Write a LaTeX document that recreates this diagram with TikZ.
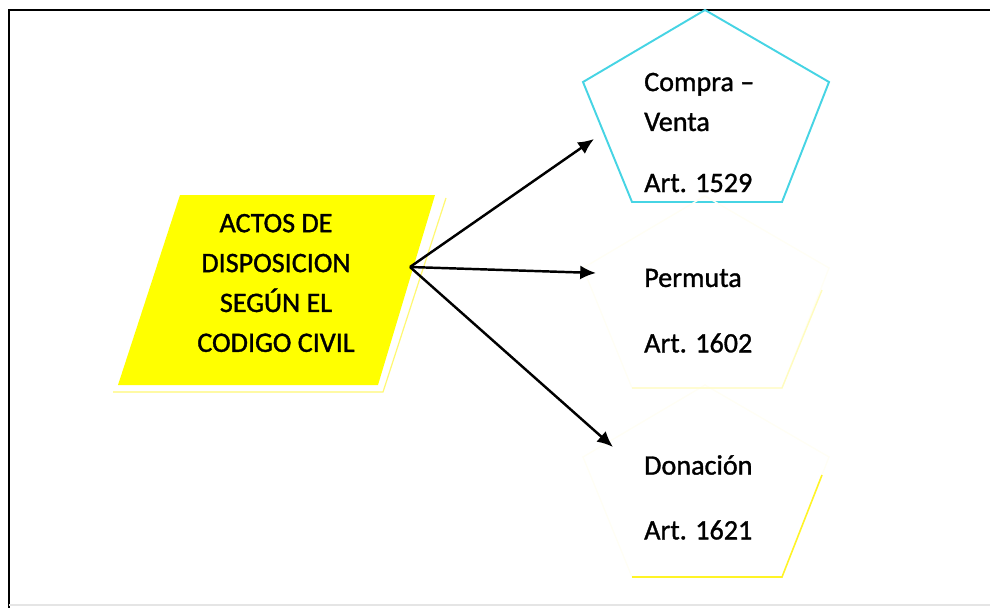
\documentclass[tikz,border=0pt]{standalone}
\usepackage{fontspec}
\setmainfont{Carlito}[FakeBold=1.2]
\newfontfamily\txtfont{Carlito}[FakeBold=1.2]
\usetikzlibrary{arrows.meta}

\definecolor{cyanline}{RGB}{70,212,228}
\definecolor{actyellow}{RGB}{255,255,0}

\begin{document}
\begin{tikzpicture}[
		x=0.02cm, y=-0.02cm,
		line width=1.4pt,
		txt/.style={ inner sep=0pt, anchor=west, font=\txtfont\fontsize{16}{22.7}\selectfont, align=left, },
		acto/.style={ inner sep=0pt, font=\txtfont\fontsize{16}{22.7}\selectfont, align=center, },
		flecha/.style={ -{Latex[length=9pt,width=8pt]}, },
		pics/penta/.style={
			code={%
				\draw[#1](0,0)--(124,72)--(77,192)--(-73,192)--(-122,72)--cycle;
			}
		},
		]
		\useasboundingbox (0,0) rectangle (990,608);
		
		% marco
		\draw[line width=1.3pt](9,608)--(9,10)--(990,10);
		\draw[black!10,line width=0.8pt](9,605)--(990,605);
		
		% actos de disposicion
		\fill[actyellow](180,195)--(435,195)--(378,385)--(118,385)--cycle;
		\draw[yellow!55,line width=0.7pt](446,198)--(383,392)--(113,392);
		\node[acto](act) at (276,283){ACTOS DE\\DISPOSICION\\SEGÚN EL\\CODIGO CIVIL};
		\coordinate(src) at (410,267);
		
		% pentagonos
		\pic at (705,10){penta={cyanline,line width=1.1pt,fill=white}};
		\pic at (705,196){penta={yellow!4,line width=0.8pt}};
		\pic at (705,385){penta={yellow!4,line width=0.8pt}};
		\draw[yellow!25,line width=0.8pt](822,290)--(782,388)--(632,388);
		\draw[yellow!85,line width=0.9pt](822,475)--(782,577)--(632,577);
		
		\node[txt](cv) at (643,102){Compra –\\Venta};
		\node[txt](a1) at (643,183){Art. 1529};
		\node[txt](per) at (643,278){Permuta};
		\node[txt](a2) at (643,343){Art. 1602};
		\node[txt](don) at (643,465){Donación};
		\node[txt](a3) at (643,530){Art. 1621};
		
		% flechas
		\coordinate(t1) at (594,139);
		\coordinate(t2) at (596,273);
		\coordinate(t3) at (613,447);
		\draw[flecha](src)--(t1);
		\draw[flecha](src)--(t2);
		\draw[flecha](src)--(t3);
	\end{tikzpicture}
\end{document}
